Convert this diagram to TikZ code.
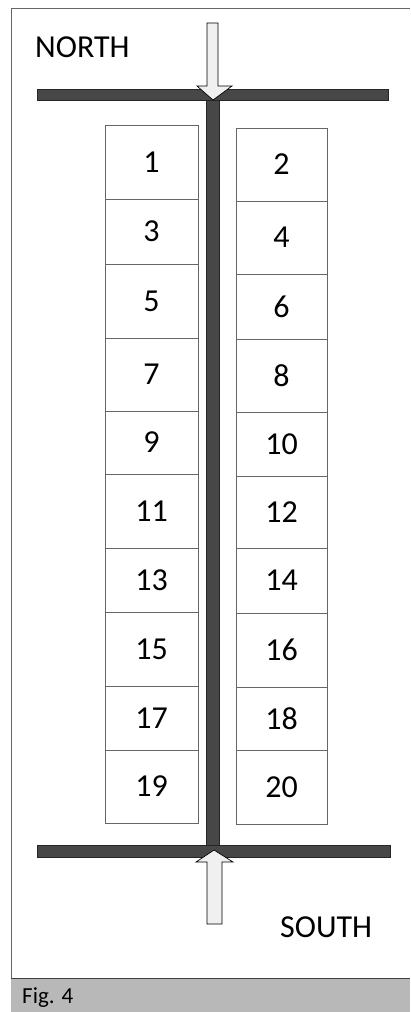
\documentclass[tikz,border=0pt]{standalone}
\usepackage{fontspec}
\setmainfont{Carlito}
\begin{document}
\begin{tikzpicture}[x=1pt,y=-1pt,
  cell/.style={draw=black!60, line width=0.6pt, inner sep=0pt, font=\fontsize{32}{33}\selectfont},
  bar/.style={fill=black!72, draw=black!85, line width=0.4pt, inner sep=0pt},
  blockarrow/.style={fill=black!6, draw=black, line width=0.7pt, line join=miter},
  lbl/.style={font=\fontsize{32}{34}\selectfont, inner sep=0pt}]
\useasboundingbox (0,0) rectangle (410,1012);
\fill[white] (0,0) rectangle (410,1012);
% frame and caption band
\draw[black!60, line width=0.6pt] (11,978) -- (11,8) -- (410,8);
\fill[black!28] (11,978) rectangle (410,1012);
\draw[black!75, line width=0.6pt] (11,978) -- (410,978);
\node[font=\fontsize{23}{25}\selectfont, anchor=base west, inner sep=0pt] (fig) at (22,1003) {Fig. 4};
% labels
\node[lbl, anchor=base west] (north) at (35,57) {NORTH};
\node[lbl, anchor=base west] (south) at (280,937) {SOUTH};
% left column of cells
\foreach \n/\t/\b in {1/125/199, 3/199/264, 5/264/338, 7/338/411, 9/411/474,
  11/474/548, 13/548/612, 15/612/686, 17/686/750, 19/750/823}{
  \node[cell, minimum width=93pt, minimum height=\b pt-\t pt] (c\n) at (151.5,{(\t+\b)/2}) {\n};
}
% right column of cells
\foreach \n/\t/\b in {2/128/201, 4/201/274, 6/274/339, 8/339/412, 10/412/476,
  12/476/548, 14/548/613, 16/613/687, 18/687/750, 20/750/824}{
  \node[cell, minimum width=91pt, minimum height=\b pt-\t pt] (c\n) at (281.5,{(\t+\b)/2}) {\n};
}
% bars
\node[bar, minimum width=13pt, minimum height=757pt] (spine) at (212.5,472.5) {};
\node[bar, minimum width=351pt, minimum height=11pt] (topbar) at (212.5,94.5) {};
\node[bar, minimum width=353pt, minimum height=12pt] (botbar) at (213.5,851) {};
% block arrows
\draw[blockarrow] (207,23) -- (218,23) -- (218,86) -- (232,86) -- (213,100) -- (197,86) -- (207,86) -- cycle;
\draw[blockarrow] (207,924) -- (222,924) -- (222,862) -- (233,862) -- (214,850) -- (196,862) -- (207,862) -- cycle;
\end{tikzpicture}
\end{document}
